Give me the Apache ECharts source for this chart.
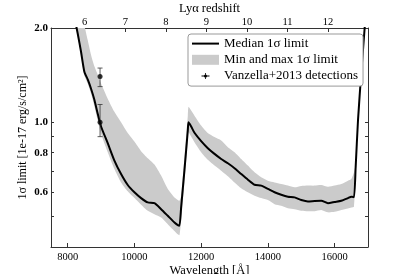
<!DOCTYPE html>
<html><head><meta charset="utf-8">
<script src="https://cdn.jsdelivr.net/npm/echarts@6/dist/echarts.min.js"></script>
<style>html,body{margin:0;padding:0;background:#fff}#c{width:407px;height:274px}</style>
</head><body><div id="c"></div><script>
// Wavelength samples (Å)
const wavelength = [8100, 8200, 8300, 8400, 8500, 8600, 8700, 8800, 8900, 9000, 9200, 9400, 9600, 9800, 10000, 10200, 10400, 10600, 10800, 11000, 11200, 11300, 11350, 11400, 11500, 11600, 11620, 11700, 11800, 12000, 12200, 12400, 12600, 12800, 13000, 13200, 13400, 13600, 13800, 14000, 14200, 14400, 14600, 14800, 15000, 15200, 15400, 15600, 15800, 16000, 16200, 16400, 16500, 16580, 16630, 16700, 16800, 16900, 16950];
// Median 1σ limit [1e-17 erg/s/cm²]
const medianLimit = [2.40, 2.17, 1.92, 1.68, 1.45, 1.37, 1.28, 1.18, 1.065, 0.970, 0.858, 0.755, 0.684, 0.631, 0.598, 0.573, 0.555, 0.552, 0.528, 0.503, 0.479, 0.470, 0.468, 0.535, 0.705, 0.942, 1.00, 0.970, 0.926, 0.871, 0.827, 0.793, 0.764, 0.740, 0.714, 0.684, 0.656, 0.632, 0.628, 0.613, 0.598, 0.587, 0.579, 0.576, 0.565, 0.559, 0.561, 0.562, 0.552, 0.557, 0.562, 0.573, 0.579, 0.577, 0.719, 1.014, 1.45, 2.00, 2.34];
// Min and max 1σ limit
const minLimit = [2.35, 2.13, 1.885, 1.64, 1.41, 1.33, 1.235, 1.125, 1.014, 0.919, 0.803, 0.710, 0.643, 0.602, 0.573, 0.546, 0.522, 0.509, 0.497, 0.473, 0.450, 0.439, 0.436, 0.485, 0.643, 0.875, 0.931, 0.901, 0.864, 0.803, 0.759, 0.728, 0.701, 0.673, 0.643, 0.616, 0.598, 0.583, 0.573, 0.565, 0.548, 0.542, 0.532, 0.528, 0.522, 0.520, 0.520, 0.525, 0.516, 0.518, 0.525, 0.531, 0.535, 0.538, 0.701, 0.989, 1.41, 1.96, 2.28];
const maxLimit = [3.22, 2.87, 2.56, 2.28, 2.04, 1.83, 1.64, 1.51, 1.42, 1.33, 1.19, 1.08, 1.00, 0.924, 0.868, 0.809, 0.768, 0.733, 0.676, 0.613, 0.576, 0.565, 0.562, 0.583, 0.774, 1.05, 1.12, 1.09, 1.05, 0.977, 0.924, 0.897, 0.875, 0.833, 0.803, 0.764, 0.728, 0.693, 0.668, 0.651, 0.643, 0.635, 0.628, 0.620, 0.626, 0.628, 0.628, 0.631, 0.623, 0.628, 0.635, 0.651, 0.659, 0.693, 0.737, 1.04, 1.485, 2.04, 2.40];
// Vanzella+2013 detections
const detectWave = [8970, 8970];
const detectFlux = [1.40, 1.00];
const detectLow = [1.30, 0.90];
const detectHigh = [1.49, 1.14];
// Tick labels
const wavelengthTicks = [8000, 10000, 12000, 14000, 16000];
const redshiftTicks = [6, 7, 8, 9, 10, 11, 12];
const limitTickLabels = [0.6, 0.8, 1.0, 2.0];
const limitTicks = [0.5, 0.6, 0.7, 0.8, 0.9, 1.0, 2.0];

const LYA = 1215.67;
const X_MIN = 7500, X_MAX = 17000;
const FONT = 'Liberation Serif';
const AX = '#333';

const chart = echarts.init(document.getElementById('c'));
const bandData = wavelength.map((w, i) => [w, minLimit[i], maxLimit[i]]);
const medianData = wavelength.map((w, i) => [w, medianLimit[i]]);
const detData = detectWave.map((w, i) => [w, detectFlux[i]]);
const errData = detectWave.map((w, i) => [w, detectLow[i], detectHigh[i]]);

const option = {
  animation: false,
  backgroundColor: '#fff',
  grid: { left: 51, right: 39, top: 28, bottom: 27, containLabel: false, outerBoundsMode: 'none' },
  legend: {
    orient: 'vertical', left: 188, top: 34,
    padding: [1.5, 5, 2, 4],
    itemWidth: 27, itemHeight: 10, itemGap: 0,
    backgroundColor: '#fff', borderColor: '#999', borderWidth: 1, borderRadius: 3,
    textStyle: { fontFamily: FONT, fontSize: 13, color: '#000', lineHeight: 16.2 },
    selectedMode: false,
    data: [
      { name: 'Median 1σ limit', icon: 'path://M0,0 M27,10 M0,4 L27,4 L27,6 L0,6 Z', itemStyle: { color: '#000' } },
      { name: 'Min and max 1σ limit', icon: 'rect', itemStyle: { color: '#cbcbcb' } },
      { name: 'Vanzella+2013 detections', icon: 'path://M0,0 M27,10 M9.5,4.6 L17.5,4.6 L17.5,5.4 L9.5,5.4 Z M13.1,2 L13.9,2 L13.9,8 L13.1,8 Z M15.1,5 A1.6,1.6 0 1,1 11.9,5 A1.6,1.6 0 1,1 15.1,5 Z', itemStyle: { color: '#000' } }
    ]
  },
  xAxis: [
    {
      type: 'value', min: X_MIN, max: X_MAX, position: 'bottom',
      axisLine: { onZero: false, lineStyle: { color: AX, width: 1 } },
      axisTick: { inside: true, length: 4, customValues: wavelengthTicks, lineStyle: { color: AX } },
      axisLabel: { customValues: wavelengthTicks, formatter: v => String(Math.round(v)), fontFamily: FONT, fontSize: 10.5, color: '#000', margin: 5 },
      splitLine: { show: false },
      name: 'Wavelength [Å]', nameLocation: 'middle', nameGap: 17.5, nameMoveOverlap: false,
      nameTextStyle: { fontFamily: FONT, fontSize: 12.5, color: '#000' }
    },
    {
      type: 'value', min: X_MIN / LYA - 1, max: X_MAX / LYA - 1, position: 'top',
      axisLine: { onZero: false, lineStyle: { color: AX, width: 1 } },
      axisTick: { inside: true, length: 4, customValues: redshiftTicks, lineStyle: { color: AX } },
      axisLabel: { customValues: redshiftTicks, formatter: v => String(Math.round(v)), fontFamily: FONT, fontSize: 10.5, color: '#000', margin: 0.5 },
      splitLine: { show: false },
      name: 'Lyα redshift', nameLocation: 'middle', nameGap: 13, nameMoveOverlap: false,
      nameTextStyle: { fontFamily: FONT, fontSize: 12.5, color: '#000' }
    }
  ],
  yAxis: [
    {
      type: 'log', logBase: 10, min: 0.4, max: 2.0, position: 'left',
      axisLine: { show: true, onZero: false, lineStyle: { color: AX, width: 1 } },
      axisTick: { show: true, inside: true, length: 3, customValues: limitTicks, lineStyle: { color: AX } },
      axisLabel: { customValues: limitTickLabels, formatter: v => Number(v).toFixed(1), fontFamily: FONT, fontSize: 11, fontWeight: 'bold', color: '#000', margin: 3 },
      splitLine: { show: false },
      name: '1σ limit [1e-17 erg/s/cm²]', nameLocation: 'middle', nameGap: 22.5, nameMoveOverlap: false,
      nameTextStyle: { fontFamily: FONT, fontSize: 12, color: '#000' }
    },
    {
      type: 'log', logBase: 10, min: 0.4, max: 2.0, position: 'right',
      axisLine: { show: true, onZero: false, lineStyle: { color: AX, width: 1 } },
      axisTick: { show: true, inside: true, length: 3, customValues: limitTicks, lineStyle: { color: AX } },
      axisLabel: { show: false },
      splitLine: { show: false }
    }
  ],
  series: [
    {
      name: 'Min and max 1σ limit', type: 'custom', xAxisIndex: 0, yAxisIndex: 0,
      clip: true, z: 1, silent: true,
      itemStyle: { color: '#cbcbcb' },
      data: bandData,
      encode: { x: 0, y: [1, 2] },
      renderItem: function (params, api) {
        if (params.dataIndex !== 0) return;
        const pts = [];
        for (let i = 0; i < bandData.length; i++) pts.push(api.coord([bandData[i][0], bandData[i][2]]));
        for (let i = bandData.length - 1; i >= 0; i--) pts.push(api.coord([bandData[i][0], bandData[i][1]]));
        return { type: 'polygon', shape: { points: pts, smooth: 0.2 }, style: { fill: '#cbcbcb' } };
      }
    },
    {
      name: 'Median 1σ limit', type: 'line', xAxisIndex: 0, yAxisIndex: 0,
      data: medianData, symbol: 'none', smooth: 0.2, z: 3,
      lineStyle: { color: '#000', width: 2 }, itemStyle: { color: '#000' }
    },
    {
      name: 'Vanzella+2013 detections', type: 'custom', xAxisIndex: 0, yAxisIndex: 0, z: 4,
      data: errData, encode: { x: 0, y: [1, 2] }, itemStyle: { color: '#000' },
      renderItem: function (params, api) {
        const lo = api.coord([api.value(0), api.value(1)]);
        const hi = api.coord([api.value(0), api.value(2)]);
        const st = { stroke: '#333', lineWidth: 0.8 };
        return {
          type: 'group', children: [
            { type: 'line', shape: { x1: lo[0], y1: lo[1], x2: hi[0], y2: hi[1] }, style: st },
            { type: 'line', shape: { x1: lo[0] - 2.5, y1: lo[1], x2: lo[0] + 2.5, y2: lo[1] }, style: st },
            { type: 'line', shape: { x1: hi[0] - 2.5, y1: hi[1], x2: hi[0] + 2.5, y2: hi[1] }, style: st }
          ]
        };
      }
    },
    {
      name: 'Vanzella+2013 detections', type: 'scatter', xAxisIndex: 0, yAxisIndex: 0, z: 5,
      data: detData, symbol: 'circle', symbolSize: 5, itemStyle: { color: '#000' }
    }
  ]
};
chart.setOption(option);
</script></body></html>
